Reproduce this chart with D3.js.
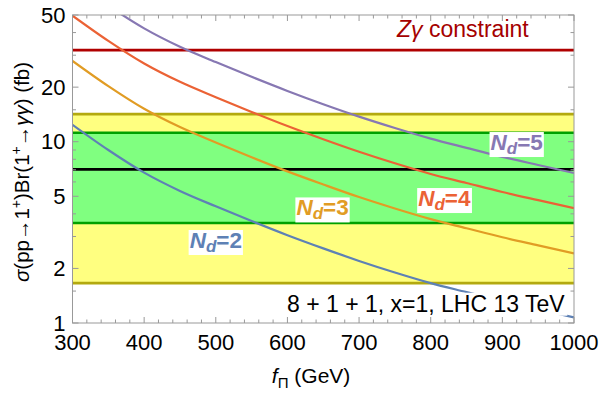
<!DOCTYPE html>
<html><head><meta charset="utf-8">
<script src="https://cdn.jsdelivr.net/npm/d3@7"></script>
<style>
body{margin:0;background:#fff;}
svg{display:block;}
text{font-family:"Liberation Sans",Arial,sans-serif;}
</style></head>
<body><svg id="c" width="602" height="394"></svg>
<script>
// ---- data ----
const fPi = [300,350,400,450,500,550,600,650,700,750,800,850,900,950,1000];
const nd2 = [12.4,9.0,6.75,5.35,4.4,3.65,3.05,2.58,2.2,1.9,1.66,1.48,1.32,1.19,1.075];
const nd3 = [27.9,20.25,15.19,12.04,9.9,8.21,6.86,5.81,4.95,4.28,3.74,3.33,2.97,2.68,2.42];
const nd4 = [49.6,36.0,27.0,21.4,17.6,14.6,12.2,10.32,8.8,7.6,6.64,5.92,5.28,4.76,4.3];
const nd5 = [77.5,56.25,42.2,33.4,27.5,22.8,19.06,16.1,13.75,11.9,10.4,9.25,8.25,7.44,6.72];
const seriesNames = ["2","3","4","5"];
const zGammaLimit = 32;
const yellowBand = [1.66, 14.2];
const greenBand = [3.56, 11.2];
const centralValue = 7.04;
const xTicks = [300,400,500,600,700,800,900,1000];
const yTicks = [1,2,5,10,20,50];
const yMinor = [1.5,3,4,6,7,8,9,15,30,40];

// ---- layout ----
const svg = d3.select("#c");
const W=602,H=394;
const m={l:72.5,t:15,r:28,b:71};
const x = d3.scaleLinear().domain([300,1000]).range([m.l, W-m.r]);
const y = d3.scaleLog().domain([1,50]).range([H-m.b, m.t]);
const colors = ["#5e81b5","#e19c24","#eb6235","#8778b3"];

svg.append("defs").append("clipPath").attr("id","clip")
  .append("rect").attr("x",m.l).attr("y",m.t).attr("width",x(1000)-m.l).attr("height",y(1)-m.t);

const plot = svg.append("g").attr("clip-path","url(#clip)");
// bands
plot.append("rect").attr("x",x(300)).attr("width",x(1000)-x(300))
  .attr("y",y(yellowBand[1])).attr("height",y(yellowBand[0])-y(yellowBand[1])).attr("fill","#ffff80");
plot.append("rect").attr("x",x(300)).attr("width",x(1000)-x(300))
  .attr("y",y(greenBand[1])).attr("height",y(greenBand[0])-y(greenBand[1])).attr("fill","#80ff80");
function hline(v,col,w){
  plot.append("line").attr("x1",x(300)).attr("x2",x(1000)).attr("y1",y(v)).attr("y2",y(v))
    .attr("stroke",col).attr("stroke-width",w);
}
hline(yellowBand[0],"#b3a90f",2.6); hline(yellowBand[1],"#b3a90f",2.6);
hline(greenBand[0],"#00a000",2.6); hline(greenBand[1],"#00a000",2.6);
hline(centralValue,"#000",2.8);
hline(zGammaLimit,"#b00000",2.6);

const line = d3.line().x((d,i)=>x(fPi[i])).y(d=>y(d)).curve(d3.curveMonotoneX);
[nd2,nd3,nd4,nd5].forEach((s,i)=>{
  plot.append("path").attr("d",line(s)).attr("fill","none").attr("stroke",colors[i]).attr("stroke-width",2.2);
});

// frame & ticks
const fr = svg.append("g");
fr.append("rect").attr("x",m.l).attr("y",m.t).attr("width",x(1000)-m.l).attr("height",y(1)-m.t)
  .attr("fill","none").attr("stroke","#999").attr("stroke-width",1);
const tk = "#999";
const xMinor = d3.range(300,1001,20).filter(v=>v%100!==0);
function vt(v,len){
  fr.append("line").attr("x1",x(v)).attr("x2",x(v)).attr("y1",y(1)).attr("y2",y(1)-len).attr("stroke",tk);
  fr.append("line").attr("x1",x(v)).attr("x2",x(v)).attr("y1",m.t).attr("y2",m.t+len).attr("stroke",tk);
}
function ht(v,len){
  fr.append("line").attr("y1",y(v)).attr("y2",y(v)).attr("x1",m.l).attr("x2",m.l+len).attr("stroke",tk);
  fr.append("line").attr("y1",y(v)).attr("y2",y(v)).attr("x1",x(1000)).attr("x2",x(1000)-len).attr("stroke",tk);
}
xTicks.forEach(v=>vt(v,6)); xMinor.forEach(v=>vt(v,3.5));
yTicks.forEach(v=>ht(v,6)); yMinor.forEach(v=>ht(v,3.5));

// tick labels
const fs = 22;
xTicks.forEach(v=>{
  svg.append("text").attr("x",x(v)).attr("y",y(1)+27).attr("text-anchor","middle")
    .attr("font-size",fs).text(v);
});
yTicks.forEach(v=>{
  svg.append("text").attr("x",m.l-7).attr("y",y(v)).attr("dy","0.35em").attr("text-anchor","end")
    .attr("font-size",fs).text(v);
});

// axis titles
const xt = svg.append("text").attr("x",x(633)).attr("y",383).attr("text-anchor","middle").attr("font-size",21);
xt.append("tspan").attr("font-style","italic").text("f");
xt.append("tspan").attr("font-size",15).attr("dy",5).text("Π");
xt.append("tspan").attr("dy",-5).text(" (GeV)");

const yt = svg.append("text").attr("transform",`translate(29,${(y(1)+m.t)/2+3}) rotate(-90)`)
  .attr("text-anchor","middle").attr("font-size",20.5);
yt.append("tspan").attr("font-style","italic").text("σ");
yt.append("tspan").text("(pp→1");
yt.append("tspan").attr("font-size",14).attr("dy",-8).text("+");
yt.append("tspan").attr("dy",8).text(")Br(1");
yt.append("tspan").attr("font-size",14).attr("dy",-8).text("+");
yt.append("tspan").attr("dy",8).text("→");
yt.append("tspan").attr("font-style","italic").text("γγ");
yt.append("tspan").text(") (fb)");

// annotations
const zt = svg.append("text").attr("x",x(753)).attr("y",y(37.6)).attr("font-size",23).attr("fill","#a50000");
zt.append("tspan").attr("font-style","italic").text("Zγ");
zt.append("tspan").text(" constraint");

function boxed(node,pad){
  const b = node.node().getBBox();
  svg.insert("rect", function(){return node.node();})
    .attr("x",b.x-pad).attr("y",b.y+2).attr("width",b.width+2*pad).attr("height",b.height-3).attr("fill","#fff");
}
const labelPos = [[500,2.87],[649,4.34],[819,4.89],[920,9.96]];
seriesNames.forEach((n,i)=>{
  const t = svg.append("text").attr("x",x(labelPos[i][0])).attr("y",y(labelPos[i][1])+8)
    .attr("text-anchor","middle").attr("font-size",22.5).attr("font-weight","bold").attr("fill",colors[i]);
  t.append("tspan").attr("font-style","italic").text("N");
  t.append("tspan").attr("font-style","italic").attr("font-size",17).attr("dy",4).text("d");
  t.append("tspan").attr("dy",-4).text("="+n);
  boxed(t,1);
});
const info = svg.append("text").attr("x",x(987)).attr("y",y(1.154)).attr("text-anchor","end")
  .attr("font-size",23).text("8 + 1 + 1, x=1, LHC 13 TeV");
boxed(info,2);
</script></body></html>
